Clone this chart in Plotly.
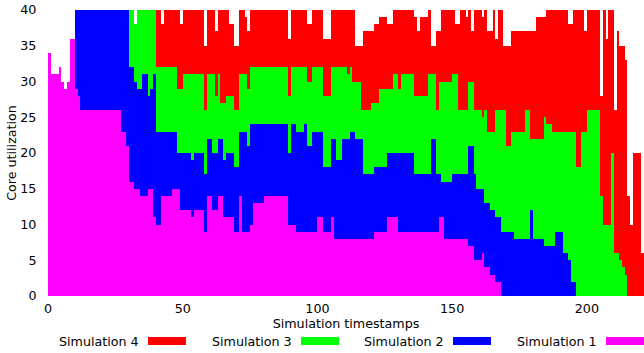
import plotly.graph_objects as go

# ---------------- data ----------------
timestamps = list(range(222))

sim1 = (
    [34, 31, 31, 31, 32, 30, 29, 30, 36, 36]
    + [29, 28, 26, 26, 26, 26, 26, 26, 26, 26]
    + [26, 26, 26, 26, 26, 26, 26, 23, 23, 21]
    + [16, 16, 15, 15, 14, 14, 14, 15, 15, 11]
    + [10, 10, 14, 14, 14, 14, 15, 15, 15, 12]
    + [12, 12, 12, 11, 12, 12, 12, 12, 9, 14]
    + [14, 12, 12, 14, 14, 11, 11, 11, 11, 9]
    + [9, 14, 9, 9, 9, 10, 13, 13, 13, 13]
    + [14, 14, 14, 14, 14, 14, 14, 14, 14, 10]
    + [10, 10, 9, 9, 9, 9, 9, 9, 9, 9]
    + [11, 11, 9, 9, 9, 11, 8, 8, 8, 8]
    + [8, 8, 8, 8, 8, 8, 8, 8, 8, 8]
    + [8, 9, 9, 9, 9, 9, 11, 11, 11, 11]
    + [9, 9, 9, 9, 9, 9, 9, 9, 9, 9]
    + [9, 9, 9, 9, 9, 11, 11, 8, 8, 8]
    + [8, 8, 8, 8, 8, 8, 7, 7, 5, 5]
    + [5, 6, 4, 4, 3, 3, 2, 2, 0, 0]
    + [0] * 52
)

sim2 = (
    [0] * 10
    + [11, 12, 14, 14, 14, 14, 14, 14, 14, 14]
    + [14, 14, 14, 14, 14, 14, 14, 17, 17, 19]
    + [16, 16, 15, 14, 15, 17, 17, 13, 14, 20]
    + [13, 13, 9, 9, 9, 9, 8, 8, 5, 8]
    + [8, 8, 8, 8, 8, 8, 8, 8, 8, 8]
    + [8, 8, 8, 8, 8, 8, 9, 9, 9, 9]
    + [9, 9, 14, 14, 12, 14, 11, 11, 11, 11]
    + [10, 10, 10, 10, 10, 10, 10, 10, 10, 10]
    + [14, 14, 14, 14, 14, 15, 12, 12, 14, 14]
    + [12, 12, 9, 9, 9, 11, 14, 11, 11, 14]
    + [14, 14, 15, 15, 14, 14, 14, 9, 9, 9]
    + [9, 9, 9, 9, 9, 9, 9, 9, 9, 9]
    + [11, 11, 11, 11, 11, 11, 8, 8, 8, 8]
    + [8, 8, 13, 13, 8, 6, 5, 8, 8, 8]
    + [9, 9, 9, 9, 9, 9, 14, 14, 12, 10]
    + [10, 9, 9, 9, 9, 9, 9, 9, 9, 9]
    + [9, 9, 9, 8, 8, 8, 8, 8, 8, 12]
    + [8, 8, 8, 8, 7, 7, 7, 7, 9, 9]
    + [9, 6, 6, 5, 2, 2, 0, 0, 0, 0]
    + [0] * 22
)

sim3 = (
    [0] * 30
    + [8, 8, 8, 11, 11, 9, 9, 12, 11, 9]
    + [9, 9, 9, 9, 9, 9, 9, 9, 9, 9]
    + [11, 11, 11, 12, 11, 11, 11, 11, 9, 9]
    + [9, 11, 8, 9, 5, 8, 8, 8, 8, 8]
    + [8, 8, 8, 8, 8, 8, 8, 8, 8, 8]
    + [8, 8, 8, 8, 8, 8, 8, 8, 8, 8]
    + [8, 8, 9, 9, 9, 8, 9, 9, 9, 9]
    + [9, 9, 10, 10, 10, 10, 10, 13, 13, 10]
    + [10, 9, 9, 7, 8, 8, 4, 9, 9, 9]
    + [10, 9, 9, 11, 11, 11, 9, 9, 11, 11]
    + [9, 11, 11, 11, 11, 11, 11, 11, 11, 11]
    + [11, 14, 9, 9, 9, 13, 14, 14, 14, 14]
    + [14, 14, 9, 9, 9, 9, 9, 9, 9, 11]
    + [11, 10, 13, 10, 11, 11, 15, 15, 17, 17]
    + [12, 12, 14, 15, 15, 15, 15, 18, 18, 10]
    + [14, 14, 14, 14, 18, 17, 17, 16, 14, 14]
    + [14, 17, 17, 18, 21, 21, 18, 18, 23, 23]
    + [26, 26, 26, 26, 26, 14, 10, 10, 10, 20]
    + [6, 6, 5, 4, 3, 0, 0, 0, 0, 0, 0, 0]
)

sim4 = (
    [0] * 40
    + [8, 8, 6, 8, 8, 8, 8, 8, 11, 9]
    + [9, 9, 9, 9, 9, 9, 9, 9, 9, 9]
    + [9, 9, 9, 9, 13, 13, 12, 10, 10, 9]
    + [9, 9, 9, 8, 8, 8, 8, 8, 8, 8]
    + [8, 8, 8, 8, 8, 8, 8, 8, 8, 8]
    + [8, 8, 8, 8, 8, 8, 8, 8, 8, 8]
    + [8, 8, 8, 8, 8, 8, 8, 8, 8, 8]
    + [8, 9, 8, 10, 5, 5, 9, 11, 11, 11]
    + [10, 11, 11, 10, 10, 10, 9, 9, 9, 9]
    + [11, 9, 9, 9, 9, 9, 11, 9, 11, 11]
    + [11, 9, 4, 4, 11, 7, 10, 10, 10, 10]
    + [9, 7, 12, 14, 14, 13, 10, 7, 14, 14]
    + [14, 14, 14, 14, 14, 17, 10, 14, 14, 9]
    + [14, 14, 14, 14, 14, 14, 14, 11, 11, 15]
    + [15, 17, 17, 17, 14, 16, 16, 17, 17, 17]
    + [17, 17, 17, 15, 15, 17, 22, 22, 17, 14]
    + [14, 14, 14, 14, 14, 14, 30, 26, 30, 20]
    + [20, 31, 30, 31, 30, 14, 10, 20, 20, 20, 6, 6]
)

series_names = ["Simulation 1", "Simulation 2", "Simulation 3", "Simulation 4"]
series_values = [sim1, sim2, sim3, sim4]
series_colors = ["#ff00ff", "#0000ff", "#00ff00", "#ff0000"]

x_ticks = [0, 50, 100, 150, 200]
y_ticks = [0, 5, 10, 15, 20, 25, 30, 35, 40]

# ---------------- figure ----------------
W, H = 644, 353
ML, MR, MT, MB = 48, 0, 10, 57
FONT = "DejaVu Sans"
FS = 12.7
TXT = "#000000"

fig = go.Figure()
for name, vals, col in zip(series_names, series_values, series_colors):
    fig.add_trace(
        go.Bar(
            x=timestamps,
            y=vals,
            width=1,
            offset=0,
            name=name,
            marker=dict(color=col, line=dict(width=0)),
            showlegend=False,
            hoverinfo="skip",
        )
    )

fig.update_layout(
    width=W,
    height=H,
    barmode="stack",
    bargap=0,
    margin=dict(l=ML, r=MR, t=MT, b=MB, pad=0),
    plot_bgcolor="white",
    paper_bgcolor="white",
    font=dict(family=FONT, size=FS, color=TXT),
    showlegend=False,
)

fig.update_xaxes(
    range=[0, 221.2],
    tickvals=x_ticks,
    tickfont=dict(family=FONT, size=FS, color=TXT),
    showgrid=False,
    zeroline=False,
    showline=False,
    ticks="outside",
    ticklen=1,
    tickcolor="rgba(0,0,0,0)",
    title=dict(
        text="Simulation timestamps",
        standoff=0,
        font=dict(family=FONT, size=FS, color=TXT),
    ),
    automargin=False,
)
fig.update_yaxes(
    range=[0, 40],
    tickvals=y_ticks,
    tickfont=dict(family=FONT, size=FS, color=TXT),
    showgrid=False,
    zeroline=False,
    showline=False,
    ticks="outside",
    ticklen=8,
    tickcolor="rgba(0,0,0,0)",
    title=dict(
        text="Core utilization",
        standoff=0,
        font=dict(family=FONT, size=FS, color=TXT),
    ),
    automargin=False,
)

# custom legend: label text followed by a colour swatch, Simulation 4 ... 1
plot_w = W - ML - MR
plot_h = H - MT - MB
legend_order = [3, 2, 1, 0]
swatch_left_px = [148, 301, 453, 606]
swatch_w_px = 38
swatch_h_px = 8
legend_cy_px = 341


def px_to_paper_x(px):
    return (px - ML) / plot_w


def px_to_paper_y(py):
    return (H - MB - py) / plot_h


for idx, sx in zip(legend_order, swatch_left_px):
    fig.add_shape(
        type="rect",
        xref="paper",
        yref="paper",
        x0=px_to_paper_x(sx),
        x1=px_to_paper_x(sx + swatch_w_px),
        y0=px_to_paper_y(legend_cy_px - swatch_h_px / 2),
        y1=px_to_paper_y(legend_cy_px + swatch_h_px / 2),
        fillcolor=series_colors[idx],
        line=dict(width=0),
    )
    fig.add_annotation(
        xref="paper",
        yref="paper",
        x=px_to_paper_x(sx - 7),
        y=px_to_paper_y(legend_cy_px),
        xanchor="right",
        yanchor="middle",
        text=series_names[idx],
        showarrow=False,
        font=dict(family=FONT, size=FS, color=TXT),
    )

fig.write_html(
    "out.html",
    config={"displayModeBar": False},
    post_script="document.body.style.margin='0';document.body.style.overflow='hidden';",
)
